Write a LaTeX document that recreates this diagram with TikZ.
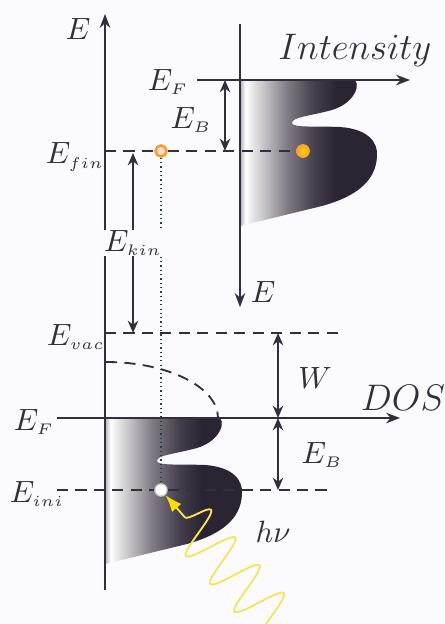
\documentclass[tikz,border=0pt]{standalone}
\usepackage{amsmath}
\usepackage{tikz}
\usetikzlibrary{arrows.meta,decorations.pathmorphing}
\definecolor{inkgray}{rgb}{0.2,0.18,0.24}
\definecolor{shadedark}{rgb}{0.17,0.14,0.2}
\definecolor{shadelite}{rgb}{0.7,0.69,0.72}
\definecolor{bgtint}{rgb}{0.985,0.98,0.995}
\definecolor{photonyellow}{rgb}{0.96,0.9,0.35}
\definecolor{dotorange}{rgb}{0.98,0.6,0.2}
\pgfdeclarehorizontalshading{dosfill}{100bp}{color(0bp)=(shadelite); color(25bp)=(shadelite); color(27bp)=(white); color(29bp)=(white!92!black); color(42bp)=(shadedark!60!white); color(52bp)=(shadedark!88!white); color(60bp)=(shadedark); color(100bp)=(shadedark)}
\tikzset{
  axis/.style={
    -{Stealth[length=4.5pt,width=3.4pt]},
    semithick,
    inkgray
  },
  levelline/.style={
    dash pattern=on 3.6pt off 2.4pt,
    semithick,
    inkgray
  },
  span/.style={
    {Stealth[length=4pt,width=3.4pt]}-{Stealth[length=4pt,width=3.4pt]},
    semithick,
    inkgray
  },
  lbl/.style={
    inner sep=1pt,
    text=inkgray
  },
  biglbl/.style={
    lbl,
    font=\large
  },
  photon/.style={
    photonyellow,
    line width=0.6pt,
    decorate,
    decoration={snake,amplitude=8pt,segment length=12pt,post length=9pt},
    -{Latex[length=5.5pt,width=4pt,fill=yellow!85!orange,color=yellow!80!orange]}
  },
  hotdot/.style={
    circle,
    minimum size=4.5pt,
    inner sep=0pt,
    inner color=yellow!70!orange,
    outer color=dotorange
  },
  opendot/.style={
    circle,
    minimum size=3.6pt,
    inner sep=0pt,
    draw=dotorange,
    line width=0.8pt,
    fill=orange!25!white
  },
  colddot/.style={
    circle,
    minimum size=4pt,
    inner sep=0pt,
    draw=gray!45,
    fill=white
  },
  dosband/.pic={
    \shade[shading=dosfill] (0,0) -- (113,0)
      .. controls (121,0) and (118,22) .. (92,30)
      .. controls (70,36) and (52,37) .. (52,43)
      .. controls (52,48) and (78,46) .. (100,47)
      .. controls (128,49) and (138,62) .. (137,76)
      .. controls (136,100) and (118,116) .. (82,126)
      -- (0,146) -- cycle;
  }
}
\begin{document}
\begin{tikzpicture}[x=0.325pt,y=-0.325pt]
\path[use as bounding box,fill=bgtint] (0,0) rectangle (445,624);

% density of states bands
\pic at (105,418) {dosband};
\pic at (240,80) {dosband};

% axes
\coordinate (sbot) at (105,590);
\coordinate (stop) at (105,14);
\coordinate (dosl) at (57,418);
\coordinate (dosr) at (400,418);
\coordinate (itop) at (240,24);
\coordinate (ibot) at (240,307);
\coordinate (intl) at (197,80);
\coordinate (intr) at (410,80);
\draw[axis] (sbot) -- (stop);
\draw[axis] (dosl) -- (dosr);
\draw[axis] (itop) -- (ibot);
\draw[axis] (intl) -- (intr);

% energy levels
\coordinate (finl) at (105,151);
\coordinate (vacl) at (105,333);
\coordinate (vacr) at (340,333);
\coordinate (inil) at (57,490);
\coordinate (inir) at (330,490);
\node[opendot] (fin) at (161,151) {};
\node[hotdot] (peak) at (303,151) {};
\node[colddot] (ini) at (161,490) {};
\draw[levelline] (finl) -- (fin) -- (peak);
\draw[levelline] (vacl) -- (vacr);
\draw[levelline] (inil) -- (ini) -- (inir);
\draw[levelline] (106,362) arc[start angle=-90,end angle=0,x radius=112,y radius=56];
\draw[inkgray!80!teal,densely dotted,thin] (fin) -- (ini);

% spans
\draw[span] (225,80) -- (225,151);
\draw[span] (133,153) -- node[lbl,fill=bgtint,inner sep=0pt] {$E_{\scriptscriptstyle kin}$} (133,333);
\draw[span] (278,333) -- (278,418);
\draw[span] (278,418) -- (278,490);

% photon
\coordinate (phstart) at (285,632);
\draw[photon] (phstart) -- (ini);

% labels
\node[lbl] (eleft) at (78,29) {$E$};
\node[lbl] (eright) at (263,292) {$E$};
\node[biglbl] (intens) at (355,50) {$Intensity$};
\node[biglbl] (dos) at (403,398) {$DOS$};
\node[lbl] (efup) at (168,82) {$E_{\scriptscriptstyle F}$};
\node[lbl] (ebup) at (191,120) {$E_{\scriptscriptstyle B}$};
\node[lbl] (efin) at (75,157) {$E_{\scriptscriptstyle fin}$};
\node[lbl] (evac) at (76,337) {$E_{\scriptscriptstyle vac}$};
\node[lbl] (wlbl) at (315,378) {$W$};
\node[lbl] (eflo) at (34,422) {$E_{\scriptscriptstyle F}$};
\node[lbl] (eblo) at (322,455) {$E_{\scriptscriptstyle B}$};
\node[lbl] (eini) at (37,494) {$E_{\scriptscriptstyle ini}$};
\node[lbl] (hnu) at (273,532) {$h\nu$};
\end{tikzpicture}
\end{document}
